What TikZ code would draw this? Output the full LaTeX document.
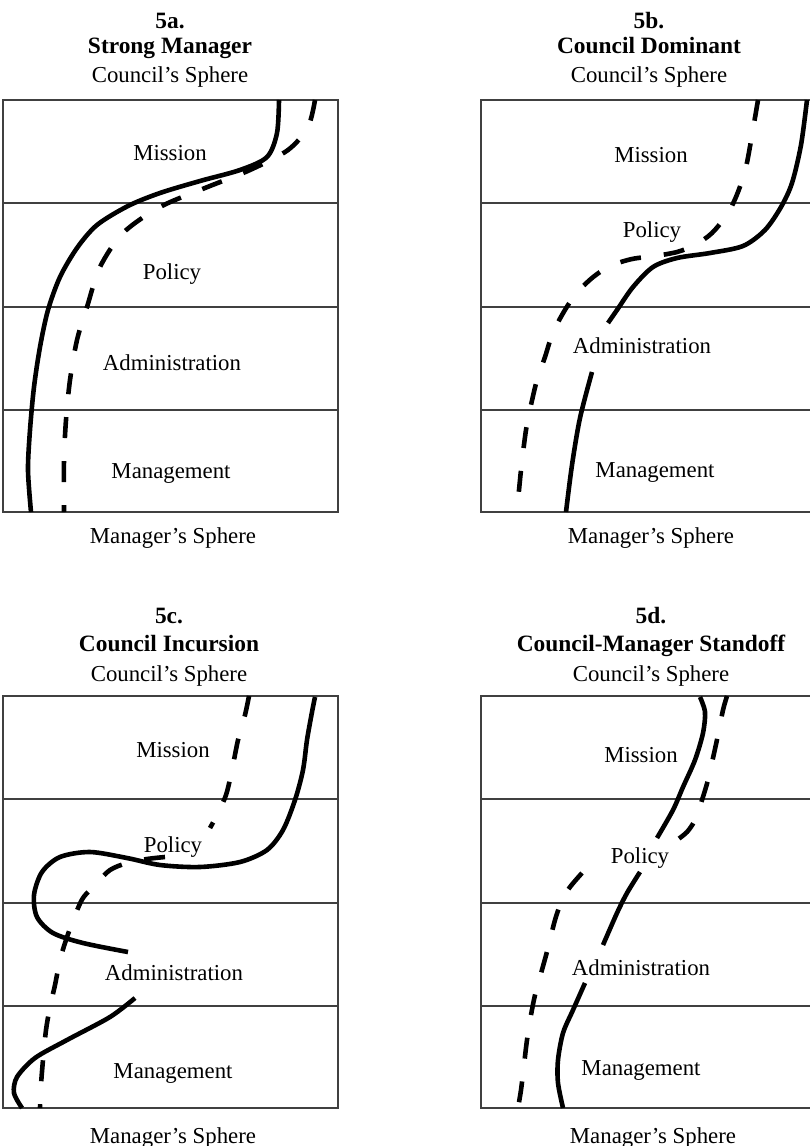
\documentclass[tikz,border=0pt]{standalone}
\usepackage{fontspec}
\setmainfont{Liberation Serif}
\usetikzlibrary{positioning}

\begin{document}
\begin{tikzpicture}[x=1pt,y=-1pt,
    lab/.style={font=\fontsize{22.8}{27}\selectfont,anchor=base,inner sep=0pt},
    ttl/.style={font=\fontsize{23.4}{28}\selectfont\bfseries,anchor=base,inner sep=0pt},
    sphere/.style={line width=1.3pt,draw=black!75},
    solidline/.style={line width=4.6pt,line cap=butt},
    dashline/.style={line width=4.6pt,dash pattern=on 21pt off 23pt}]
    \useasboundingbox (0,0) rectangle (810,1146);

    % boxes with their four rows
    \foreach \bx/\by in {3/100,481/100,3/696,481/696}{
        \draw[sphere] (\bx,\by) rectangle (\bx+335,\by+412);
        \foreach \r in {103,207,310}
            \draw[sphere] (\bx,\by+\r) -- (\bx+335,\by+\r);
    }

    % 5a
    \node[ttl] (t5a) at (170,28) {5a.};
    \node[ttl] (h5a) at (170,53) {Strong Manager};
    \node[lab] (c5a) at (170,82) {Council’s Sphere};
    \node[lab] (mis5a) at (170,160) {Mission};
    \node[lab] (pol5a) at (172,279) {Policy};
    \node[lab] (adm5a) at (172,370) {Administration};
    \node[lab] (man5a) at (171,478) {Management};
    \node[lab] (s5a) at (173,543) {Manager’s Sphere};
    \draw[solidline] plot[smooth] coordinates {(279,100) (277,133) (267,157) (240,170) (200,181) (160,193) (128,206) (97,225) (77,248) (60,277) (48,310) (40,347) (34,387) (30,430) (28,470) (31,512)};
    \draw[dashline] plot[smooth] coordinates {(315,100) (308,127) (288,150) (250,170) (205,188) (160,207) (123,233) (100,267) (87,307) (77,340) (70,380) (66,420) (64,460) (64,512)};

    % 5b
    \node[ttl] (t5b) at (649,28) {5b.};
    \node[ttl] (h5b) at (649,53) {Council Dominant};
    \node[lab] (c5b) at (649,82) {Council’s Sphere};
    \node[lab] (mis5b) at (651,162) {Mission};
    \node[lab] (pol5b) at (652,237) {Policy};
    \node[lab] (adm5b) at (642,353) {Administration};
    \node[lab] (man5b) at (655,477) {Management};
    \node[lab] (s5b) at (651,543) {Manager’s Sphere};
    \draw[solidline] plot[smooth] coordinates {(807,100) (801,145) (792,183) (781,207) (765,230) (743,246) (710,253) (677,258) (653,267) (633,287) (617,310) (608,323)};
    \draw[solidline] plot[smooth] coordinates {(592,372) (580,418) (572,465) (566,512)};
    \draw[dashline] plot[smooth] coordinates {(758,100) (752,135) (746,167) (738,192) (728,213) (712,233) (695,245) (677,252) (655,256) (632,259) (610,266) (592,278) (575,295) (562,315) (552,335) (545,357) (537,380) (531,405) (526,430) (521,470) (517,512)};

    % 5c
    \node[ttl] (t5c) at (169,623) {5c.};
    \node[ttl] (h5c) at (169,651) {Council Incursion};
    \node[lab] (c5c) at (169,681) {Council’s Sphere};
    \node[lab] (mis5c) at (173,757) {Mission};
    \node[lab] (pol5c) at (173,852) {Policy};
    \node[lab] (adm5c) at (174,980) {Administration};
    \node[lab] (man5c) at (173,1078) {Management};
    \node[lab] (s5c) at (173,1143) {Manager’s Sphere};
    \draw[solidline] plot[smooth] coordinates {(315,697) (312,712) (307,740) (303,770) (295,800) (283,830) (267,850) (240,862) (200,867) (160,865) (127,858) (90,852) (60,857) (42,872) (34,895) (37,917) (53,933) (83,943) (128,952)};
    \draw[solidline] plot[smooth] coordinates {(135,998) (110,1017) (67,1040) (35,1058) (17,1077) (14,1093) (22,1108)};
    \draw[dashline] plot[smooth] coordinates {(249,696) (245,715) (238,740) (232,770) (226,795) (217,815) (210,828)};
    \draw[dashline] plot[smooth] coordinates {(165,857) (147,859) (127,863) (110,870) (97,883) (83,898) (74,918) (66,940) (60,960) (55,985) (50,1007) (46,1030) (43,1060) (41,1085) (40,1108)};

    % 5d
    \node[ttl] (t5d) at (651,623) {5d.};
    \node[ttl] (h5d) at (651,651) {Council-Manager Standoff};
    \node[lab] (c5d) at (651,681) {Council’s Sphere};
    \node[lab] (mis5d) at (641,762) {Mission};
    \node[lab] (pol5d) at (640,863) {Policy};
    \node[lab] (adm5d) at (641,975) {Administration};
    \node[lab] (man5d) at (641,1075) {Management};
    \node[lab] (s5d) at (653,1143) {Manager’s Sphere};
    \draw[solidline] plot[smooth] coordinates {(700,697) (705,712) (703,733) (695,760) (683,787) (673,810) (657,838)};
    \draw[solidline] plot[smooth] coordinates {(640,872) (627,893) (617,913) (603,945)};
    \draw[solidline] plot[smooth] coordinates {(585,983) (573,1010) (563,1033) (558,1060) (558,1083) (563,1108)};
    \draw[dashline] plot[smooth] coordinates {(727,696) (723,710) (718,735) (713,758) (708,780) (702,800) (695,820) (687,832) (677,840)};
    \draw[dashline] plot[smooth] coordinates {(582,873) (570,887) (562,900) (555,920) (548,948) (540,977) (535,995) (531,1015) (527,1040) (524,1065) (521,1090) (518,1108)};
\end{tikzpicture}
\end{document}
